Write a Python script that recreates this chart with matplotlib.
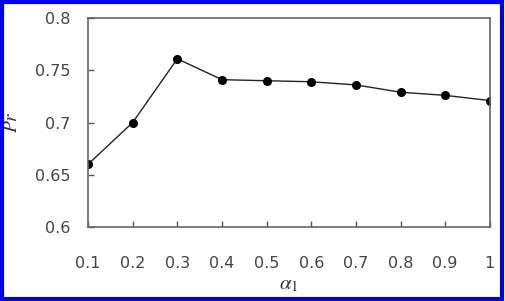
import matplotlib.pyplot as plt
from matplotlib.patches import Rectangle

# data
alpha1 = [0.1, 0.2, 0.3, 0.4, 0.5, 0.6, 0.7, 0.8, 0.9, 1.0]
pr = [0.660, 0.700, 0.761, 0.741, 0.740, 0.739, 0.736, 0.729, 0.726, 0.721]
x_ticks = [0.1, 0.2, 0.3, 0.4, 0.5, 0.6, 0.7, 0.8, 0.9, 1.0]
x_labels = ['0.1', '0.2', '0.3', '0.4', '0.5', '0.6', '0.7', '0.8', '0.9', '1']
y_ticks = [0.6, 0.65, 0.7, 0.75, 0.8]
y_labels = ['0.6', '0.65', '0.7', '0.75', '0.8']

plt.rcParams['mathtext.fontset'] = 'stix'

fig = plt.figure(figsize=(5.06, 3.01), dpi=100)
ax = fig.add_axes([0.174, 0.246, 0.794, 0.694])

ax.plot(alpha1, pr, color='#222222', linewidth=1.0, marker='o',
        markersize=5.5, markerfacecolor='black', markeredgecolor='black')

ax.set_xlim(0.1, 1.0)
ax.set_ylim(0.6, 0.8)
ax.set_xticks(x_ticks)
ax.set_xticklabels(x_labels)
ax.set_yticks(y_ticks)
ax.set_yticklabels(y_labels)
ax.tick_params(direction='in', length=4, width=1, color='#555555',
               labelsize=11.5, labelcolor='#444444')
ax.tick_params(axis='x', pad=21)
ax.tick_params(axis='y', pad=12.5)
for s in ax.spines.values():
    s.set_color('#666666')
    s.set_linewidth(1.2)

ax.set_xlabel(r'$\alpha_1$', fontsize=15, color='#333333', labelpad=2)
ax.set_ylabel(r'$Pr$', fontsize=14, color='#333333', labelpad=10)

# blue frame round the picture
fig.patches.append(Rectangle((0.004, 0.007), 0.988, 0.986, transform=fig.transFigure,
                             fill=False, edgecolor='#0000ee', linewidth=3.0))

plt.savefig('out.png', dpi=100)
